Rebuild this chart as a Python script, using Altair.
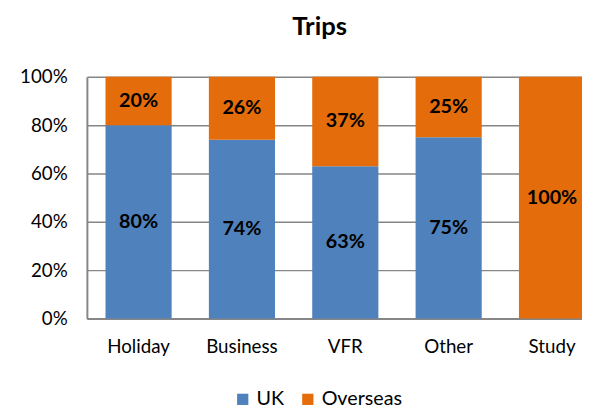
import altair as alt
import pandas as pd

categories = ["Holiday", "Business", "VFR", "Other", "Study"]
uk = [80, 74, 63, 75, 0]
overseas = [20, 26, 37, 25, 100]
series = ["UK", "Overseas"]
colors = ["#4F81BD", "#E46C0A"]

rows = []
for i, c in enumerate(categories):
    rows.append({"cat": c, "series": "UK", "val": uk[i] / 100, "ord": 0})
    rows.append({"cat": c, "series": "Overseas", "val": overseas[i] / 100, "ord": 1})
df = pd.DataFrame(rows)

FONT = "Lato"

base = alt.Chart(df)

xenc = alt.X("cat:N", sort=categories,
             scale=alt.Scale(range=[0, 524], paddingInner=0.36, paddingOuter=0.18, round=False),
             axis=alt.Axis(title=None, labelAngle=0, ticks=False, labelPadding=20,
                           labelFontSize=19, labelColor="black", labelFont=FONT,
                           domainColor="#868686", domainWidth=2, grid=False))

bars = base.mark_bar().encode(
    x=xenc,
    y=alt.Y("val:Q", stack="zero",
            scale=alt.Scale(domain=[0, 1]),
            axis=alt.Axis(title=None, format=".0%", values=[0, 0.2, 0.4, 0.6, 0.8, 1.0],
                          ticks=False, labelPadding=20, labelFontSize=19,
                          labelColor="black", labelFont=FONT,
                          domainColor="#868686", domainWidth=2,
                          gridColor="#868686", gridWidth=1.5)),
    color=alt.Color("series:N", sort=series,
                    scale=alt.Scale(domain=series, range=colors),
                    legend=alt.Legend(title=None, orient="none", direction="horizontal",
                                      legendX=148, legendY=317, symbolType="square",
                                      symbolSize=130, symbolStrokeWidth=0,
                                      labelFontSize=20, labelFont=FONT, labelColor="black",
                                      columnPadding=14, labelOffset=4)),
    order=alt.Order("ord:Q"),
)

labels = base.transform_filter("datum.val > 0").transform_stack(
    stack="val", groupby=["cat"], as_=["v0", "v1"],
    sort=[alt.SortField("ord", order="ascending")]
).transform_calculate(
    mid="(datum.v0 + datum.v1) / 2"
).mark_text(fontWeight="bold", fontSize=20, font=FONT, color="black", baseline="middle").encode(
    x=alt.X("cat:N", sort=categories),
    y=alt.Y("mid:Q"),
    text=alt.Text("val:Q", format=".0%"),
)

chart = alt.layer(bars, labels).properties(
    width=502, height=245,
    autosize=alt.AutoSizeParams(type="none"),
    padding={"left": 80, "top": 67, "right": 0, "bottom": 89},
    title=alt.Title("Trips", fontSize=26, fontWeight="bold", font=FONT, color="black",
                    anchor="middle", dx=-15, offset=28),
).configure_view(stroke=None)

chart.save("out.html", embed_options={"renderer": "svg", "actions": False})
